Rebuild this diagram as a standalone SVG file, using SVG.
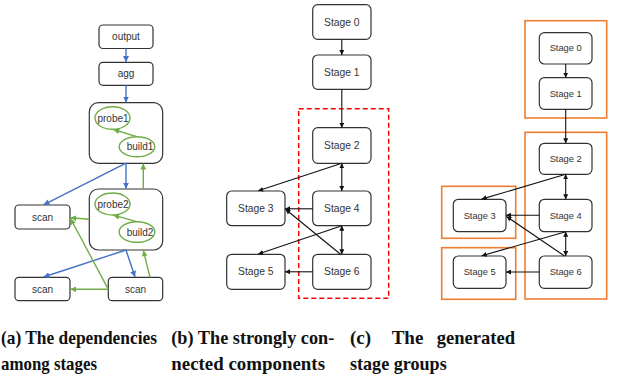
<svg xmlns="http://www.w3.org/2000/svg" width="634" height="379" viewBox="0 0 634 379">
<style>
.n{fill:#fff;stroke:#333;stroke-width:1.2}
.t{font-family:"Liberation Sans",Arial,sans-serif;fill:#333;text-anchor:middle;dominant-baseline:central}
.ta{font-size:10px}
.tb{font-size:10.3px}
.tc{font-size:9.3px}
.e{fill:none;stroke:#70AD47;stroke-width:1.4}
.bl{stroke:#4472C4;stroke-width:1.4;fill:none}
.gr{stroke:#70AD47;stroke-width:1.4;fill:none}
.bk{stroke:#111;stroke-width:1.1;fill:none}
.cap{font-family:"Liberation Serif","Times New Roman",serif;font-weight:bold;font-size:19px;fill:#111}
</style>
<defs>
<marker id="ab" viewBox="0 0 10 10" refX="10" refY="5" markerWidth="6" markerHeight="6" markerUnits="userSpaceOnUse" orient="auto-start-reverse"><path d="M0,0L10,5L0,10z" fill="#4472C4"/></marker>
<marker id="ag" viewBox="0 0 10 10" refX="10" refY="5" markerWidth="6" markerHeight="6" markerUnits="userSpaceOnUse" orient="auto-start-reverse"><path d="M0,0L10,5L0,10z" fill="#70AD47"/></marker>
<marker id="ak" viewBox="0 0 10 10" refX="10" refY="5" markerWidth="5" markerHeight="5" markerUnits="userSpaceOnUse" orient="auto-start-reverse"><path d="M0,0L10,5L0,10z" fill="#111"/></marker>
</defs>

<!-- panel a nodes -->
<g id="a-output"><rect class="n" x="99" y="25" width="54" height="23.5" rx="4"/><text class="t ta" x="126" y="36.8">output</text></g>
<g id="a-agg"><rect class="n" x="99" y="62.3" width="54" height="23" rx="4"/><text class="t ta" x="126" y="73.8">agg</text></g>
<g id="a-box1"><rect class="n" x="89.3" y="102.7" width="73.4" height="60.6" rx="9"/>
<ellipse class="e" cx="112.5" cy="118" rx="17.5" ry="11.3"/><text class="t ta" x="113" y="118">probe1</text>
<ellipse class="e" cx="137" cy="146.7" rx="17.8" ry="10"/><text class="t ta" x="140" y="146.7">build1</text></g>
<g id="a-box2"><rect class="n" x="89.3" y="189" width="73.4" height="61" rx="9"/>
<ellipse class="e" cx="112.5" cy="204" rx="17.5" ry="11"/><text class="t ta" x="113" y="204">probe2</text>
<ellipse class="e" cx="137" cy="232" rx="17.8" ry="10.3"/><text class="t ta" x="140" y="232">build2</text></g>
<g id="a-scan1"><rect class="n" x="15" y="205" width="55" height="24" rx="4"/><text class="t ta" x="42.5" y="217">scan</text></g>
<g id="a-scan2"><rect class="n" x="15" y="277.3" width="55" height="23.4" rx="4"/><text class="t ta" x="42.5" y="289">scan</text></g>
<g id="a-scan3"><rect class="n" x="108.3" y="277.3" width="54.4" height="23.4" rx="4"/><text class="t ta" x="135.5" y="289">scan</text></g>

<!-- panel b nodes -->
<g id="b-s0"><rect class="n" x="312.7" y="4.7" width="58.3" height="34.6" rx="5"/><text class="t tb" x="341.8" y="22">Stage 0</text></g>
<g id="b-s1"><rect class="n" x="312.7" y="55" width="58.3" height="34.3" rx="5"/><text class="t tb" x="341.8" y="72.2">Stage 1</text></g>
<g id="b-s2"><rect class="n" x="312.7" y="127.7" width="58.3" height="35.6" rx="5"/><text class="t tb" x="341.8" y="145.5">Stage 2</text></g>
<g id="b-s3"><rect class="n" x="226.7" y="191" width="58.3" height="34.7" rx="5"/><text class="t tb" x="255.8" y="208.4">Stage 3</text></g>
<g id="b-s4"><rect class="n" x="312.7" y="191" width="58.3" height="34.7" rx="5"/><text class="t tb" x="341.8" y="208.4">Stage 4</text></g>
<g id="b-s5"><rect class="n" x="226.7" y="254.3" width="58.3" height="35" rx="5"/><text class="t tb" x="255.8" y="271.8">Stage 5</text></g>
<g id="b-s6"><rect class="n" x="312.7" y="254.3" width="58.3" height="35" rx="5"/><text class="t tb" x="341.8" y="271.8">Stage 6</text></g>
<rect id="b-scc" x="298.7" y="108.7" width="90" height="189.6" fill="none" stroke="#FF0000" stroke-width="1.5" stroke-dasharray="5,3"/>

<!-- panel c groups and nodes -->
<g id="c-groups" fill="none" stroke="#ED7D31" stroke-width="1.6">
<rect x="525" y="20.7" width="81.7" height="97.3"/>
<rect x="525" y="132.3" width="81.7" height="166.7"/>
<rect x="441.7" y="186.3" width="74" height="52"/>
<rect x="441.7" y="247.7" width="74" height="51.6"/>
</g>
<g id="c-s0"><rect class="n" x="539.3" y="32.7" width="52.7" height="31.3" rx="5"/><text class="t tc" x="565.7" y="48.4">Stage 0</text></g>
<g id="c-s1"><rect class="n" x="539.3" y="77.7" width="52.7" height="31.6" rx="5"/><text class="t tc" x="565.7" y="93.5">Stage 1</text></g>
<g id="c-s2"><rect class="n" x="539.3" y="143.3" width="52.7" height="31" rx="5"/><text class="t tc" x="565.7" y="158.8">Stage 2</text></g>
<g id="c-s3"><rect class="n" x="453.3" y="199.3" width="52.7" height="32.4" rx="5"/><text class="t tc" x="479.7" y="215.5">Stage 3</text></g>
<g id="c-s4"><rect class="n" x="539.3" y="199.3" width="52.7" height="32.4" rx="5"/><text class="t tc" x="565.7" y="215.5">Stage 4</text></g>
<g id="c-s5"><rect class="n" x="453.3" y="256" width="52.7" height="32.3" rx="5"/><text class="t tc" x="479.7" y="272.2">Stage 5</text></g>
<g id="c-s6"><rect class="n" x="539.3" y="256" width="52.7" height="32.3" rx="5"/><text class="t tc" x="565.7" y="272.2">Stage 6</text></g>

<!-- connectors -->
<g id="connectors">
<line class="bl" x1="126" y1="48.5" x2="126" y2="62" marker-end="url(#ab)"/>
<line class="bl" x1="126" y1="85.3" x2="126" y2="102.5" marker-end="url(#ab)"/>
<line class="gr" x1="136.7" y1="136.7" x2="113.3" y2="129.5" marker-end="url(#ag)"/>
<line class="bl" x1="126" y1="163.3" x2="126" y2="188.8" marker-end="url(#ab)"/>
<line class="gr" x1="143.3" y1="189" x2="143.3" y2="163.6" marker-end="url(#ag)"/>
<line class="bl" x1="125" y1="163.6" x2="43.5" y2="204.8" marker-end="url(#ab)"/>
<line class="gr" x1="136.7" y1="221.7" x2="113.3" y2="215.2" marker-end="url(#ag)"/>
<line class="gr" x1="89.3" y1="219.3" x2="70.3" y2="217.7" marker-end="url(#ag)"/>
<line class="bl" x1="126" y1="250" x2="135" y2="277" marker-end="url(#ab)"/>
<line class="bl" x1="126" y1="250" x2="43.5" y2="277" marker-end="url(#ab)"/>
<line class="gr" x1="150" y1="277.3" x2="143.3" y2="250.3" marker-end="url(#ag)"/>
<line class="gr" x1="108.3" y1="289.3" x2="70.5" y2="218.5" marker-end="url(#ag)"/>
<line class="gr" x1="108.3" y1="289.3" x2="70.3" y2="289.3" marker-end="url(#ag)"/>

<line class="bk" x1="341.8" y1="39.3" x2="341.8" y2="55" marker-end="url(#ak)"/>
<line class="bk" x1="341.8" y1="89.3" x2="341.8" y2="127.7" marker-end="url(#ak)"/>
<line class="bk" x1="341.8" y1="163.3" x2="258.3" y2="190.8" marker-end="url(#ak)"/>
<line class="bk" x1="341.8" y1="163.3" x2="341.8" y2="191" marker-start="url(#ak)" marker-end="url(#ak)"/>
<line class="bk" x1="312.7" y1="208.8" x2="285" y2="208.8" marker-end="url(#ak)"/>
<line class="bk" x1="341.8" y1="225.7" x2="258.3" y2="254.1" marker-end="url(#ak)"/>
<line class="bk" x1="340.5" y1="254.3" x2="285.5" y2="209.3" marker-end="url(#ak)"/>
<line class="bk" x1="341.8" y1="225.7" x2="341.8" y2="254.3" marker-start="url(#ak)" marker-end="url(#ak)"/>
<line class="bk" x1="312.7" y1="271.8" x2="285" y2="271.8" marker-end="url(#ak)"/>

<line class="bk" x1="565.7" y1="64" x2="565.7" y2="77.7" marker-end="url(#ak)"/>
<line class="bk" x1="565.7" y1="109.3" x2="565.7" y2="143.3" marker-end="url(#ak)"/>
<line class="bk" x1="565.7" y1="174.3" x2="481.7" y2="199.1" marker-end="url(#ak)"/>
<line class="bk" x1="565.7" y1="174.3" x2="565.7" y2="199.3" marker-start="url(#ak)" marker-end="url(#ak)"/>
<line class="bk" x1="539.3" y1="215.3" x2="506" y2="215.3" marker-end="url(#ak)"/>
<line class="bk" x1="565.7" y1="231.7" x2="481.7" y2="255.8" marker-end="url(#ak)"/>
<line class="bk" x1="564.5" y1="256" x2="506.5" y2="216.5" marker-end="url(#ak)"/>
<line class="bk" x1="565.7" y1="231.7" x2="565.7" y2="256" marker-start="url(#ak)" marker-end="url(#ak)"/>
<line class="bk" x1="539.3" y1="272" x2="506" y2="272" marker-end="url(#ak)"/>
</g>

<!-- captions -->
<g id="captions" class="cap">
<text x="1" y="344" textLength="156" lengthAdjust="spacingAndGlyphs">(a) The dependencies</text>
<text x="1" y="370" textLength="96" lengthAdjust="spacingAndGlyphs">among stages</text>
<text x="171.3" y="344" textLength="163" lengthAdjust="spacingAndGlyphs">(b) The strongly con-</text>
<text x="171.3" y="370" textLength="153.7" lengthAdjust="spacingAndGlyphs">nected components</text>
<text x="350" y="344">(c)</text>
<text x="391.7" y="344">The</text>
<text x="436.7" y="344" textLength="78.3" lengthAdjust="spacingAndGlyphs">generated</text>
<text x="350" y="370" textLength="96.7" lengthAdjust="spacingAndGlyphs">stage groups</text>
</g>
</svg>
